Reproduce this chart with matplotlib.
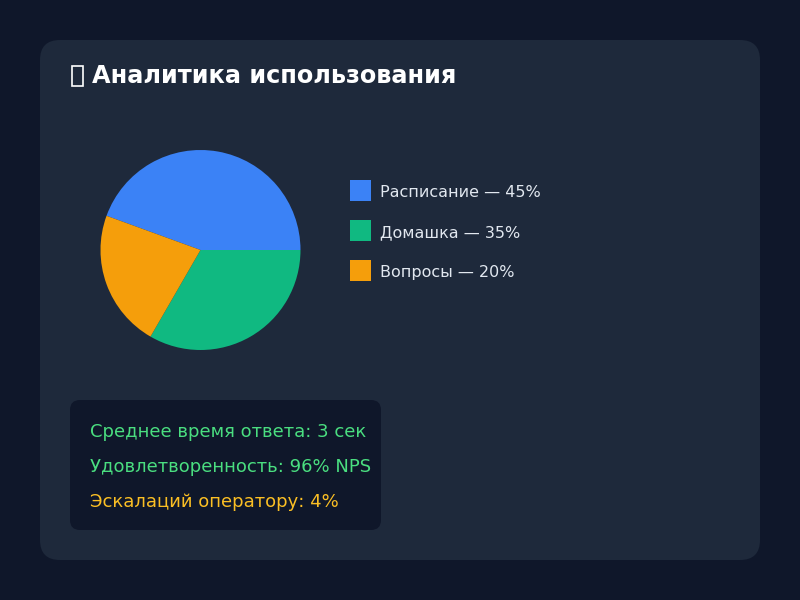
import matplotlib
matplotlib.use("Agg")
import matplotlib.pyplot as plt
from matplotlib.patches import FancyBboxPatch, Rectangle

# Data
categories = ["Расписание", "Домашка", "Вопросы"]
legend_pcts = [45, 35, 20]          # percentages printed in the legend
pie_values = [40, 30, 20]           # slice sizes as drawn in the pie
colors = ["#3b82f6", "#10b981", "#f59e0b"]
stats_labels = ["Среднее время ответа: 3 сек", "Удовлетворенность: 96% NPS", "Эскалаций оператору: 4%"]
stats_colors = ["#4ade80", "#4ade80", "#fbbf24"]
title = "Аналитика использования"

W, H = 800, 600
fig = plt.figure(figsize=(8, 6), dpi=100)
fig.patch.set_facecolor("#0f172a")

bg = fig.add_axes([0, 0, 1, 1])
bg.set_xlim(0, W)
bg.set_ylim(H, 0)
bg.axis("off")

card = FancyBboxPatch((40, 40), 720, 520, boxstyle="round,pad=0,rounding_size=20",
                      facecolor="#1e293b", edgecolor="none")
bg.add_patch(card)
box = FancyBboxPatch((70, 400), 311, 130, boxstyle="round,pad=0,rounding_size=10",
                     facecolor="#0f172a", edgecolor="none")
bg.add_patch(box)

# emoji placeholder box (no installed font has the chart emoji)
bg.add_patch(Rectangle((71.5, 66), 11, 20, facecolor="none", edgecolor="white", linewidth=1.2))
bg.text(92, 83, title, color="white", fontsize=17.3, fontweight="bold",
        va="baseline", ha="left", family="DejaVu Sans")

for i, (cat, val, col) in enumerate(zip(categories, legend_pcts, colors)):
    y = 190 + 40 * i
    bg.add_patch(Rectangle((350, y - 10), 21, 21, facecolor=col, edgecolor="none"))
    bg.text(380, y + 7, f"{cat} — {val}%", color="#e2e8f0", fontsize=11.5,
            va="baseline", ha="left")

for i, (txt, col) in enumerate(zip(stats_labels, stats_colors)):
    y = 437 + 35 * i
    bg.text(90, y, txt, color=col, fontsize=13, va="baseline", ha="left")

pie_ax = fig.add_axes([100.5 / W, 1 - 350 / H, 200 / W, 200 / H])
pie_ax.pie(pie_values, colors=colors, startangle=160, counterclock=False,
           wedgeprops=dict(linewidth=0))
pie_ax.set_xlim(-1, 1)
pie_ax.set_ylim(-1, 1)
pie_ax.set_aspect("equal")
pie_ax.axis("off")

fig.savefig("out.png", dpi=100, facecolor=fig.get_facecolor())
